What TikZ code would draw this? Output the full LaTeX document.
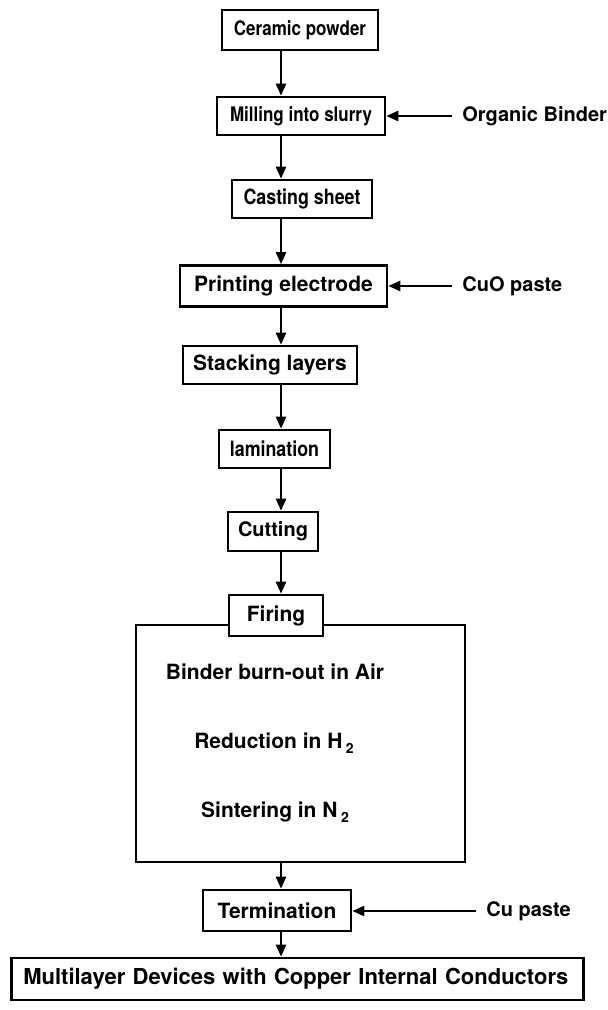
\documentclass[tikz,border=0pt]{standalone}
\usepackage{fontspec}
\setmainfont{TeX Gyre Heros}
\newfontfamily\narrowfont[FakeStretch=0.85]{TeX Gyre Heros}
\usetikzlibrary{arrows.meta}
\tikzset{
  fs/.style={font=\bfseries\fontsize{#1}{#1}\selectfont},
  narrow/.style={font=\narrowfont\bfseries\fontsize{#1}{#1}\selectfont},
  stagebox/.style={draw, line width=1.3pt, inner sep=0pt, fs=10.5},
  stagetext/.style={inner sep=0pt, fs=10.5},
  feed/.style={anchor=west, inner xsep=5pt, inner ysep=0pt, fs=10},
  flow/.style={line width=1.2pt, -{Triangle[length=6pt,width=5pt]}}
}
\begin{document}
\begin{tikzpicture}[x=0.5pt, y=-0.5pt]
  \useasboundingbox (0,0) rectangle (607,1010);
  \coordinate (axis) at (281,0);

  \node[stagebox, narrow=10, minimum width=78pt, minimum height=20pt] (cer) at (300,30) {Ceramic powder};
  \node[stagebox, narrow=10, minimum width=84pt, minimum height=19pt] (mil) at (301,116) {Milling into slurry};
  \node[stagebox, narrow=10.5, minimum width=70pt, minimum height=19pt] (cast) at (302,199) {Casting sheet};
  \node[stagebox, minimum width=103.5pt, minimum height=20.5pt] (print) at (283.5,286) {Printing electrode};
  \node[stagebox, minimum width=87pt, minimum height=19pt] (stack) at (270,365) {Stacking layers};
  \node[stagebox, narrow=10.5, minimum width=55.5pt, minimum height=19pt] (lam) at (274.5,449) {lamination};
  \node[stagebox, fs=10, minimum width=45pt, minimum height=19.5pt] (cut) at (273,531.5) {Cutting};

  \node[stagebox, minimum width=164.5pt, minimum height=118.5pt] (firebox) at (300.5,743.5) {};
  \node[stagebox, fill=white, minimum width=47pt, minimum height=20.5pt] (fire) at (276,615.5) {Firing};
  \node[stagetext] (burn) at (275,672) {Binder burn-out in Air};
  \node[stagetext] (red) at (274,743) {Reduction in H\,\raisebox{-.4ex}{\scriptsize 2}};
  \node[stagetext] (sint) at (275,812) {Sintering in N\,\raisebox{-.4ex}{\scriptsize 2}};

  \node[stagebox, minimum width=74pt, minimum height=20.5pt] (term) at (277,910.5) {Termination};
  \node[stagebox, fs=11, anchor=west, inner xsep=6pt, text width=274pt, align=left, minimum height=21pt] (dev) at (10,979) {Multilayer Devices with Copper Internal Conductors};

  \node[feed] (org) at (452,116) {Organic Binder};
  \node[feed] (cuo) at (452,286) {CuO paste};
  \node[feed] (cup) at (476,911) {Cu paste};

  \draw[flow] (cer.south -| axis) -- (mil.north -| axis);
  \draw[flow] (mil.south -| axis) -- (cast.north -| axis);
  \draw[flow] (cast.south -| axis) -- (print.north -| axis);
  \draw[flow] (print.south -| axis) -- (stack.north -| axis);
  \draw[flow] (stack.south -| axis) -- (lam.north -| axis);
  \draw[flow] (lam.south -| axis) -- (cut.north -| axis);
  \draw[flow] (cut.south -| axis) -- (fire.north -| axis);
  \draw[flow] (firebox.south -| axis) -- (term.north -| axis);
  \draw[flow] (term.south -| axis) -- (dev.north -| axis);

  \draw[flow] (org.west) -- (org.west -| mil.east);
  \draw[flow] (cuo.west) -- (cuo.west -| print.east);
  \draw[flow] (cup.west) -- (cup.west -| term.east);
\end{tikzpicture}
\end{document}
